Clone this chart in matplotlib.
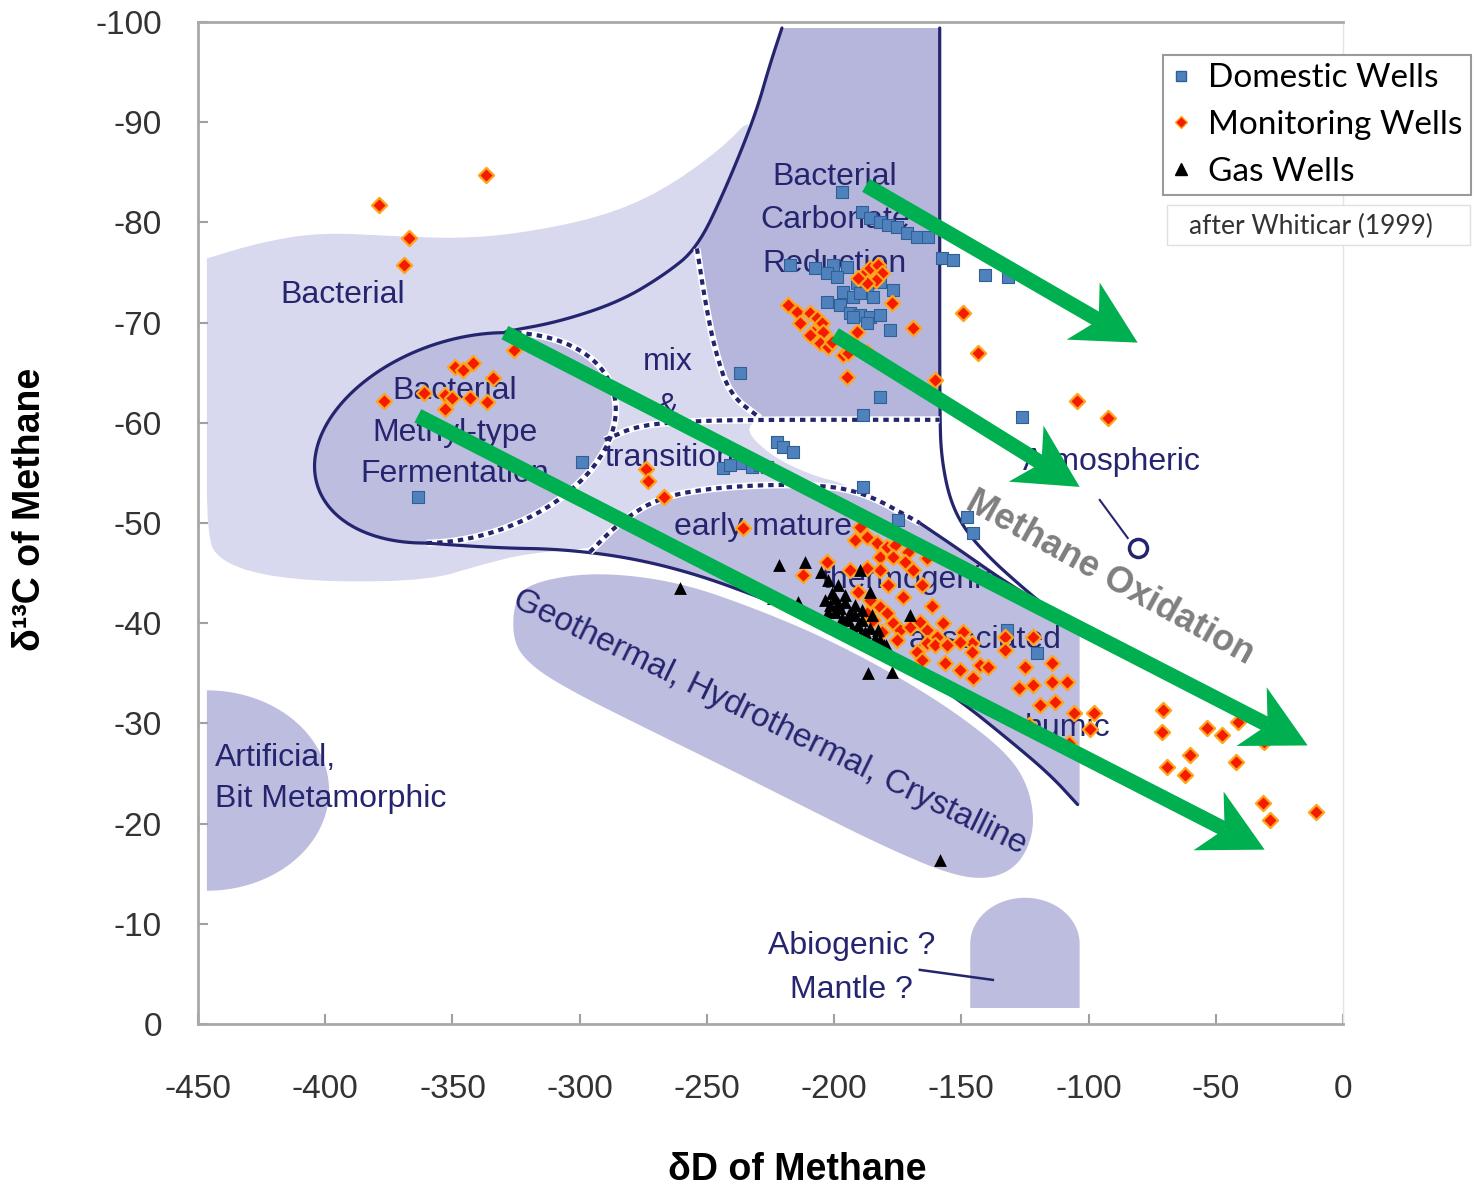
import numpy as np
import matplotlib
matplotlib.use("Agg")
import matplotlib.pyplot as plt
from matplotlib.lines import Line2D
from matplotlib.patches import Polygon, Rectangle
from matplotlib.transforms import IdentityTransform

plt.rcParams['font.family'] = ['Liberation Sans', 'DejaVu Sans']
plt.rcParams['axes.unicode_minus'] = False

# sample data: (dD, d13C) of methane, per-mille
domestic = np.array([
    (-197.0, -83.0), (-189.1, -81.0), (-186.0, -80.4), (-182.0, -80.0), (-178.9, -79.7),
    (-175.3, -79.5), (-171.4, -78.9), (-167.5, -78.5), (-163.2, -78.5), (-157.7, -76.4),
    (-153.3, -76.2), (-140.8, -74.8), (-131.7, -74.6), (-217.4, -75.7), (-207.6, -75.4),
    (-200.5, -75.7), (-195.0, -75.5), (-202.8, -75.0), (-198.9, -74.6), (-191.1, -74.0),
    (-187.1, -73.6), (-182.0, -74.1), (-176.9, -73.3), (-196.6, -73.1), (-192.6, -72.6),
    (-189.9, -73.0), (-184.8, -72.6), (-202.8, -72.1), (-197.7, -71.8), (-193.8, -71.0),
    (-189.9, -70.8), (-186.0, -70.6), (-182.0, -70.8), (-187.1, -70.0), (-192.6, -70.6),
    (-178.1, -69.3), (-237.0, -65.0), (-182.0, -62.6), (-188.7, -60.8), (-126.2, -60.6),
    (-147.8, -50.6), (-145.5, -49.0), (-188.7, -53.6), (-174.9, -50.3), (-132.1, -39.3),
    (-120.3, -37.0), (-299.1, -56.1), (-243.7, -55.5), (-236.2, -56.0), (-232.3, -55.6),
    (-229.2, -55.8), (-226.4, -55.6), (-222.5, -58.1), (-220.1, -57.6), (-216.2, -57.1),
    (-363.6, -52.6), (-240.9, -55.8),
])

monitoring = np.array([
    (-379, -81.7), (-367, -78.4), (-369, -75.7), (-337, -84.7), (-377, -62.2), (-361, -63.0),
    (-349, -65.6), (-346, -65.3), (-342, -66.0), (-334, -64.5), (-326, -67.3), (-353, -62.8),
    (-350, -62.5), (-353, -61.4), (-343, -62.5), (-336.5, -62.1),
    (-274, -55.4), (-273, -54.2), (-267, -52.6), (-236, -49.5),
    (-188.7, -74.8), (-186, -75.4), (-182.8, -75.7), (-181.3, -75.0), (-183.6, -74.3),
    (-187.2, -74.0), (-190.7, -74.5), (-177.3, -72.0), (-218.2, -71.8), (-214.7, -71.1),
    (-213.5, -70.0), (-209.5, -71.0), (-206.8, -70.5), (-204.8, -70.0), (-208.4, -69.1),
    (-204.4, -69.1), (-209.5, -68.8), (-205.6, -68.0), (-202.5, -67.6), (-200.9, -68.1),
    (-191.1, -69.1), (-196.6, -66.8), (-194.6, -67.0), (-187.2, -67.1), (-195.0, -64.6),
    (-169.1, -69.5), (-160.4, -64.3), (-149.4, -71.0), (-143.5, -67.0), (-104.6, -62.2),
    (-92.5, -60.5),
    (-189.9, -49.6), (-191.9, -48.3), (-187.2, -48.6), (-183.2, -48.0), (-179.3, -47.6),
    (-176.1, -47.8), (-182.0, -46.6), (-176.9, -46.6), (-171.0, -47.1), (-163.6, -46.5),
    (-172.2, -46.1), (-169.1, -45.3), (-182.0, -45.3), (-187.2, -45.5), (-193.8, -45.3),
    (-202.9, -46.1), (-212.3, -44.8), (-178.9, -43.8), (-165.5, -43.8), (-190.7, -43.1),
    (-173.0, -42.6), (-161.6, -41.7), (-186.0, -42.3), (-182.0, -41.6), (-179.3, -41.0),
    (-187.2, -41.0), (-184.8, -40.3), (-176.9, -40.0), (-181.3, -39.1), (-174.2, -39.3),
    (-170.3, -39.6), (-166.3, -40.1), (-163.6, -39.3), (-157.3, -40.0), (-159.6, -38.6),
    (-175.4, -38.3), (-163.6, -38.0), (-160.4, -37.8), (-155.7, -37.8), (-149.4, -39.1),
    (-145.9, -38.0), (-150.6, -38.1), (-145.9, -37.1), (-167.5, -37.1), (-165.5, -36.3),
    (-156.5, -36.0), (-150.6, -35.3), (-142.8, -35.8), (-139.6, -35.6), (-145.5, -34.5),
    (-132.9, -38.6), (-132.9, -37.3), (-121.9, -38.6), (-125.0, -35.6), (-114.5, -36.0),
    (-127.4, -33.5), (-121.9, -33.8), (-114.5, -34.1), (-108.6, -34.1), (-119.2, -31.8),
    (-113.3, -32.1), (-105.8, -31.0), (-98.0, -31.0), (-99.5, -29.4), (-107.8, -28.0),
    (-123.5, -29.8),
    (-70.9, -31.3), (-71.2, -29.1), (-60.2, -26.8), (-69.3, -25.6), (-62.2, -24.9),
    (-53.6, -29.5), (-47.7, -28.8), (-41.4, -30.1), (-31.2, -28.1), (-42.2, -26.1),
    (-31.6, -22.1), (-28.8, -20.4), (-10.7, -21.2),
])

gas = np.array([
    (-260.6, -43.5), (-221.7, -45.8), (-211.5, -46.1), (-205.2, -45.1), (-202.5, -44.3),
    (-224.1, -42.5), (-214.3, -42.1), (-198.5, -43.8), (-186.8, -35.0), (-177.3, -35.1),
    (-179.7, -37.8), (-170.3, -40.8), (-158.5, -16.4), (-186.0, -43.1), (-189.9, -45.3),
    (-203.6, -42.3), (-201.7, -41.8), (-199.7, -42.5), (-197.8, -41.5), (-195.8, -42.1),
    (-193.8, -41.1), (-199.7, -41.1), (-197.0, -40.5), (-194.6, -40.3), (-191.9, -40.8),
    (-190.7, -39.8), (-189.1, -40.3), (-193.0, -39.5), (-187.9, -39.1), (-186.0, -39.5),
    (-190.0, -38.8), (-184.0, -38.5), (-186.8, -38.1), (-182.0, -38.3), (-195.8, -42.8),
    (-200.9, -43.0), (-198.5, -42.0), (-202.5, -41.1), (-191.9, -41.8), (-185.2, -40.8),
    (-182.8, -39.3), (-180.5, -37.8), (-193.8, -38.9), (-189.1, -41.3), (-197.8, -39.8),
])

# oxidation trend arrows: (start, end)
trend_arrows = [
    ((-187.5, -83.7), (-80.7, -68.0)),
    ((-199.7, -68.8), (-103.5, -53.6)),
    ((-329.4, -69.0), (-13.9, -27.8)),
    ((-363.6, -60.7), (-30.8, -17.4)),
]

xticks = list(range(-450, 1, 50))
yticks = list(range(-100, 1, 10))

# genetic field outlines (after Whiticar 1999)
bacterial_field = [(-446.5, -76.4), (-446.5, -76.4), (-446.5, -76.4), (-425.6, -78.0), (-402.1, -79.0),
                   (-370.6, -78.6), (-347.1, -78.4),
                   (-323.5, -78.9), (-292.1, -80.5), (-268.5, -83.0), (-244.9, -87.2), (-230.4, -91.0),
                   (-242.9, -83.2), (-253.9, -77.4), (-250.8, -72.3), (-246.9, -67.3), (-241.0, -62.8),
                   (-229.2, -60.5), (-235.1, -59.3), (-225.3, -56.8), (-209.5, -54.8), (-193.8, -53.8),
                   (-193.8, -52.3), (-292.1, -47.5), (-320.3, -47.0), (-339.2, -45.8), (-358.8, -44.3),
                   (-398.1, -44.1), (-425.6, -44.8), (-441.4, -46.3), (-446.5, -48.5), (-446.5, -60),
                   (-446.5, -70)]
top_curve = [(-329.0, -69.1), (-307.8, -70.1), (-284.2, -72.1), (-266.5, -74.8), (-253.9, -77.4),
             (-242.9, -83.2), (-231.1, -90.6), (-225.3, -95.7), (-220.5, -99.4)]
bcr_dash = [(-253.9, -77.4), (-250.8, -72.3), (-246.9, -67.3), (-241.0, -62.8), (-229.2, -60.5)]
right_curve = [(-158.5, -99.4), (-158.5, -80), (-158.5, -60.3), (-157.7, -56.3), (-154.5, -52.3),
               (-148.6, -49.3), (-138.8, -46.5), (-127.0, -43.8), (-115.2, -41.3), (-103.5, -39.3)]
mix_dot = [(-290.1, -58.3), (-276.3, -59.8), (-252.8, -60.2), (-229.2, -60.3), (-158.5, -60.3)]
early_dot = [(-296.0, -47.1), (-284.2, -50.1), (-268.5, -52.6), (-244.9, -53.6), (-213.5, -53.9),
             (-189.9, -53.3), (-166.3, -50.0)]
thermo_edge = [(-166.3, -50.0), (-150.6, -47.3), (-134.9, -44.5), (-119.2, -42.0), (-103.5, -39.3)]
long_line = [(-360.8, -48.0), (-331.3, -47.5), (-307.8, -47.4), (-281.4, -46.6), (-255.5, -45.0),
             (-229.2, -42.6), (-201.7, -39.8), (-174.2, -36.3), (-150.6, -32.3), (-131.0, -28.3),
             (-115.2, -24.9), (-104.3, -21.9)]
geothermal = [(-326.6, -38.3), (-325.4, -42.8), (-315.6, -44.3), (-292.1, -45.1), (-260.6, -44.1),
              (-229.2, -41.3), (-201.7, -38.3), (-174.2, -34.6), (-150.6, -30.8), (-131.0, -26.8),
              (-123.1, -23.4), (-121.1, -19.4), (-127.0, -15.9), (-138.8, -14.4), (-154.5, -14.9),
              (-182.0, -17.9), (-213.5, -21.9), (-244.9, -25.9), (-276.3, -29.8), (-303.8, -33.3),
              (-319.5, -35.8)]

LIGHT = '#d8d8ee'
MID = '#bdbde0'
DARK_FIELD = '#b6b6dc'
NAVY = '#25256f'
GREEN = '#00b050'


def smooth(pts, n=3, closed=False):
    p = np.asarray(pts, float)
    for _ in range(n):
        if closed:
            q = np.roll(p, -1, axis=0)
            r = np.empty((2 * len(p), 2))
            r[0::2] = 0.75 * p + 0.25 * q
            r[1::2] = 0.25 * p + 0.75 * q
            p = r
        else:
            a, b = p[:-1], p[1:]
            r = np.empty((2 * len(a), 2))
            r[0::2] = 0.75 * a + 0.25 * b
            r[1::2] = 0.25 * a + 0.75 * b
            p = np.vstack([p[:1], r, p[-1:]])
    return p


def dotted(ax, pts, z=3):
    p = np.asarray(pts, float)
    ax.plot(p[:, 0], p[:, 1], color='white', lw=5, zorder=z, solid_capstyle='butt')
    ax.plot(p[:, 0], p[:, 1], color=NAVY, lw=3, dashes=(1.3, 1.2), zorder=z + 0.1)


def solid(ax, pts, z=3, lw=2.3):
    p = np.asarray(pts, float)
    ax.plot(p[:, 0], p[:, 1], color=NAVY, lw=lw, zorder=z, solid_capstyle='round')


def stealth_arrow(ax, start, end, width=15, head_len=63, head_half=33, notch=18):
    # shaft + swept-back head, built in pixel space so the head keeps its shape
    p0 = ax.transData.transform(start)
    p1 = ax.transData.transform(end)
    u = (p1 - p0) / np.hypot(*(p1 - p0))
    n = np.array([-u[1], u[0]])
    back = p1 - (head_len - notch) * u
    shaft = [p0 + n * width / 2, back + n * width / 2, back - n * width / 2, p0 - n * width / 2]
    head = [p1, p1 - head_len * u + head_half * n, back, p1 - head_len * u - head_half * n]
    for pts in (shaft, head):
        ax.add_patch(Polygon(pts, closed=True, fc=GREEN, ec='none',
                             transform=IdentityTransform(), zorder=7, clip_on=False))


fig = plt.figure(figsize=(14.74, 11.88), dpi=100)
ax = fig.add_axes([198 / 1474, 164 / 1188, 1145 / 1474, 1002 / 1188])
ax.set_xlim(-450, 0)
ax.set_ylim(0, -100)

# --- fields ---
bf = smooth(bacterial_field, 2, closed=True)
ax.fill(bf[:, 0], bf[:, 1], color=LIGHT, lw=0, zorder=1)

tc = smooth(top_curve, 3)
bd = smooth(bcr_dash, 2)
tc_upper = tc[tc[:, 0] >= -253.9]
bcr = np.vstack([tc_upper[::-1], bd[1:], [(-158.5, -60.3), (-158.5, -99.4)]])
ax.fill(bcr[:, 0], bcr[:, 1], color=DARK_FIELD, lw=0, zorder=1.2)

t = np.linspace(0, 2 * np.pi, 300)
ell_x = -345 + 57 * np.cos(t) + 16 * np.sin(t)
ell_y = -58.5 - 10.5 * np.sin(t)
ax.fill(ell_x, ell_y, color=MID, lw=0, zorder=1.3)

ll = smooth(long_line, 3)
ed = smooth(early_dot, 3)
te = smooth(thermo_edge, 2)
lower = ll[ll[:, 0] > -296][::-1]
thermo = np.vstack([ed, te[1:], [(-103.5, -21.9)], lower])
ax.fill(thermo[:, 0], thermo[:, 1], color=MID, lw=0, zorder=1.3)

gf = smooth(geothermal, 3, closed=True)
ax.fill(gf[:, 0], gf[:, 1], color=MID, lw=0, zorder=1.4)

ts = np.linspace(-np.pi / 2, np.pi / 2, 100)
ax.fill(-446.5 + 48 * np.cos(ts), -23.3 + 10 * np.sin(ts), color=MID, lw=0, zorder=1.4)

ta = np.linspace(0, np.pi, 60)
ab_x = np.concatenate([[-146.5], -125 - 21.5 * np.cos(ta), [-103.5]])
ab_y = np.concatenate([[-1.6], -8 - 4.6 * np.sin(ta), [-1.6]])
ax.fill(ab_x, ab_y, color=MID, lw=0, zorder=1.4)

# --- field boundaries ---
seg = (t >= np.pi / 2) & (t <= 3 * np.pi / 2)
solid(ax, np.column_stack([ell_x[seg], ell_y[seg]]))
tr = np.roll(t, -75)
dash_pts = np.column_stack([np.roll(ell_x, -75), np.roll(ell_y, -75)])
dash_pts = dash_pts[(tr <= np.pi / 2) | (tr >= 3 * np.pi / 2)]
dotted(ax, dash_pts)
solid(ax, tc)
solid(ax, ll)
solid(ax, smooth(right_curve, 3))
solid(ax, te)
dotted(ax, bd)
dotted(ax, smooth(mix_dot, 2))
dotted(ax, ed)

ax.plot([-95.6, -84.6], [-52.3, -48.5], color=NAVY, lw=1.5, zorder=3)
ax.plot([-80.7], [-47.5], marker='o', ms=13, mfc='white', mec=NAVY, mew=2.5, zorder=3)
ax.plot([-166.3, -137.6], [-5.4, -4.4], color=NAVY, lw=1.8, zorder=3)

# --- field labels ---
lab = dict(color=NAVY, fontsize=23, family=['Liberation Sans Narrow', 'Liberation Sans'],
           ha='center', va='center', zorder=3.5, linespacing=1.5)
ax.text(-393.0, -72.8, 'Bacterial', **lab)
ax.text(-349.0, -59.0, 'Bacterial\nMethyl-type\nFermentation', **lab)
ax.text(-199.7, -80.2, 'Bacterial\nCarbonate\nReduction', **dict(lab, linespacing=1.6))
ax.text(-265.3, -66.1, 'mix', **lab)
ax.text(-265.3, -61.6, '&', **lab)
ax.text(-264.5, -56.5, 'transition', **lab)
ax.text(-228.0, -49.6, 'early mature', **lab)
ax.text(-170.2, -44.3, 'thermogenic', **lab)
ax.text(-140.8, -38.3, 'associated', **lab)
ax.text(-108.2, -29.5, 'humic', **lab)
ax.text(-90.9, -56.1, 'Atmospheric', **lab)
ax.text(-193.0, -5.6, 'Abiogenic ?\nMantle ?', **dict(lab, linespacing=1.6))
ax.text(-443.3, -24.5, 'Artificial,\nBit Metamorphic', **dict(lab, ha='left'))
ax.text(-225.3, -30.1, 'Geothermal, Hydrothermal, Crystalline', rotation=-26,
        rotation_mode='anchor', **dict(lab, fontsize=24))

# --- samples ---
ax.scatter(domestic[:, 0], domestic[:, 1], marker='s', s=80, c='#4f81bd',
           edgecolors='#2f5f95', linewidths=0.8, zorder=4)
ax.scatter(monitoring[:, 0], monitoring[:, 1], marker='D', s=60, c='#f41c00',
           edgecolors='#ffa41c', linewidths=1.6, zorder=5)
ax.scatter(gas[:, 0], gas[:, 1], marker='^', s=85, c='black', linewidths=0, zorder=6)

# --- oxidation trend ---
for start, end in trend_arrows:
    stealth_arrow(ax, start, end)
ax.text(-91.7, -44.5, 'Methane Oxidation', rotation=-29, rotation_mode='anchor',
        ha='center', va='center', fontsize=26, fontweight='bold', color='#7f7f7f', zorder=8)

# --- axes styling ---
ax.set_xticks(xticks)
ax.set_xticklabels([str(v) for v in xticks])
ax.set_yticks(yticks)
ax.set_yticklabels([str(v) for v in yticks])
ax.tick_params(axis='both', direction='in', length=7, width=1.5, color='#a0a0a0',
               labelsize=24, labelcolor='#333333')
ax.tick_params(axis='x', pad=36)
ax.tick_params(axis='y', pad=26)
for side in ['left', 'bottom', 'top']:
    ax.spines[side].set_color('#a8a8a8')
    ax.spines[side].set_linewidth(2)
ax.spines['right'].set_color('#e4e4e4')
ax.spines['right'].set_linewidth(1)

fig.text(0.0204, 0.571, 'δ¹³C of Methane', rotation=90, ha='center', va='center',
         fontsize=27, fontweight='bold')
fig.text(0.5407, 0.0152, 'δD of Methane', ha='center', va='center',
         fontsize=27, fontweight='bold')

handles = [
    Line2D([], [], ls='none', marker='s', ms=7, mfc='#4f81bd', mec='#2f5f95', label='Domestic Wells'),
    Line2D([], [], ls='none', marker='D', ms=6, mfc='#f41c00', mec='#ffa41c', label='Monitoring Wells'),
    Line2D([], [], ls='none', marker='^', ms=8, mfc='black', mec='black', label='Gas Wells'),
]
leg = fig.legend(handles=handles, loc='upper left', bbox_to_anchor=(1163 / 1474, 1 - 55 / 1188),
                 frameon=True, fancybox=False, shadow=False, edgecolor='#9a9a9a', framealpha=1,
                 prop={'family': 'Lato', 'size': 24}, handlelength=0.6, handletextpad=0.5,
                 borderpad=0.25, labelspacing=0.5, borderaxespad=0)
leg.get_frame().set_linewidth(1.5)

fig.patches.append(Rectangle((1167 / 1474, 1 - 245 / 1188), 303 / 1474, 40 / 1188,
                             transform=fig.transFigure, fc='white', ec='#e0e0e0', lw=1))
fig.text(1311 / 1474, 1 - 226 / 1188, 'after Whiticar (1999)', ha='center', va='center',
         fontsize=19, family='Lato', color='#333333')

fig.savefig('out.png', dpi=100)
